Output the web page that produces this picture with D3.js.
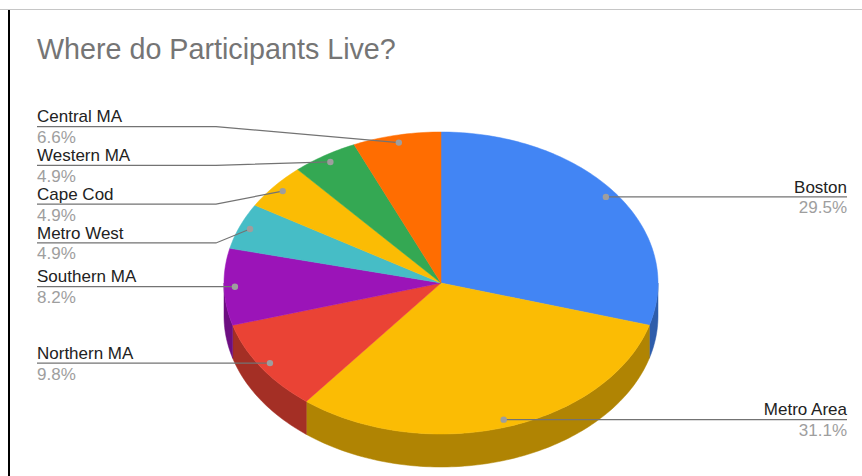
<!DOCTYPE html>
<html>
<head>
<meta charset="utf-8">
<script src="https://cdn.jsdelivr.net/npm/d3@7"></script>
<style>
  body { margin: 0; background: #fff; }
  svg { display: block; font-family: "Liberation Sans", Arial, sans-serif; }
</style>
</head>
<body>
<div id="chart"></div>
<script>
const FRAME_WIDTH = 862;
const FRAME_HEIGHT = 476;

// data (participants per region, shown as % of 61)
const REGIONS = ["Boston", "Metro Area", "Northern MA", "Southern MA", "Metro West", "Cape Cod", "Western MA", "Central MA"];
const COUNTS = [18, 19, 6, 5, 3, 3, 3, 4];
const COLORS = ["#4285f4", "#fbbc04", "#ea4335", "#9b14b8", "#46bdc6", "#fbbc04", "#34a853", "#ff6d01"];
const TITLE = "Where do Participants Live?";

// pie geometry
const CX = 441, CY = 283;
const RX = 217, RY = 151;
const DEPTH = 33;
const DOT_R = 0.95; //label dots sit just inside the rim
const LABEL_GAP = 38.8; //min vertical distance between stacked labels

const SVG = d3.select("#chart")
  .append("svg")
    .attr("width", FRAME_WIDTH)
    .attr("height", FRAME_HEIGHT);

//frame edges
SVG.append("line")
  .attr("x1", 0).attr("x2", FRAME_WIDTH)
  .attr("y1", 9.5).attr("y2", 9.5)
  .attr("stroke", "#c6c6c6").attr("stroke-width", 1);
SVG.append("line")
  .attr("x1", 9).attr("x2", 9)
  .attr("y1", 10).attr("y2", FRAME_HEIGHT)
  .attr("stroke", "#000").attr("stroke-width", 2);

SVG.append("text")
  .attr("x", 37).attr("y", 59)
  .attr("font-size", "28.7px")
  .attr("fill", "#757575")
  .text(TITLE);

const data = REGIONS.map((r, i) => ({region: r, count: COUNTS[i], color: COLORS[i]}));
const total = d3.sum(COUNTS);

const pie = d3.pie().value(d => d.count).sort(null);
const arcs = pie(data);

// angle measured clockwise from 12 o'clock, projected onto the tilted ellipse
function pt(a, k, dy) {
  return [CX + k * RX * Math.sin(a), CY - k * RY * Math.cos(a) + (dy || 0)];
}

function arcPoints(a0, a1, dy) {
  const n = Math.max(2, Math.ceil(Math.abs(a1 - a0) / 0.02));
  return d3.range(n + 1).map(i => pt(a0 + (a1 - a0) * i / n, 1, dy));
}

const line = d3.line();

//side walls: only the front half (PI/2 .. 3PI/2) is visible
const sides = SVG.append("g");
arcs.forEach(d => {
  const a0 = Math.max(d.startAngle, Math.PI / 2);
  const a1 = Math.min(d.endAngle, 3 * Math.PI / 2);
  if (a1 <= a0) return;
  const top = arcPoints(a0, a1, 0);
  const bottom = arcPoints(a1, a0, DEPTH);
  const shade = d3.color(d.data.color).darker(1);
  sides.append("path")
    .attr("d", line(top.concat(bottom)) + "Z")
    .attr("fill", shade)
    .attr("stroke", shade)
    .attr("stroke-width", 0.5);
});

//top faces
const tops = SVG.append("g");
arcs.forEach(d => {
  const pts = [[CX, CY]].concat(arcPoints(d.startAngle, d.endAngle, 0));
  tops.append("path")
    .attr("d", line(pts) + "Z")
    .attr("fill", d.data.color)
    .attr("stroke", d.data.color)
    .attr("stroke-width", 0.5);
});

//labels: anchor dots and stacked text on each side
const labels = arcs.map(d => {
  const mid = (d.startAngle + d.endAngle) / 2;
  const dot = pt(mid, DOT_R);
  return {d: d, dot: dot, left: Math.sin(mid) < 0, y: dot[1]};
});

function stack(list) {
  list.sort((a, b) => a.dot[1] - b.dot[1]);
  //merge overlapping labels into clusters centred on their mean wanted y
  let groups = list.map(l => ({items: [l], mean: l.dot[1]}));
  let merged = true;
  while (merged) {
    merged = false;
    for (let i = 0; i < groups.length - 1; i++) {
      const g = groups[i], h = groups[i + 1];
      const gBottom = g.mean + (g.items.length - 1) * LABEL_GAP / 2;
      const hTop = h.mean - (h.items.length - 1) * LABEL_GAP / 2;
      if (hTop - gBottom < LABEL_GAP) {
        const items = g.items.concat(h.items);
        groups.splice(i, 2, {items: items, mean: d3.mean(items, l => l.dot[1])});
        merged = true;
        break;
      }
    }
  }
  groups.forEach(g => {
    //stacked clusters sit a little lower than their plain mean
    const shift = g.items.length > 1 ? 3.6 : 0;
    g.items.forEach((l, i) => {
      l.y = g.mean + shift + (i - (g.items.length - 1) / 2) * LABEL_GAP;
    });
  });
}
stack(labels.filter(l => l.left));
stack(labels.filter(l => !l.left));

const fmt = d3.format(".1%");
const LEFT_X = 37, RIGHT_X = 847;
const LEFT_ELBOW = CX - RX - 8, RIGHT_ELBOW = CX + RX + 8;

const lab = SVG.append("g");
labels.forEach(l => {
  const x = l.left ? LEFT_X : RIGHT_X;
  const elbow = l.left ? LEFT_ELBOW : RIGHT_ELBOW;
  lab.append("path")
    .attr("d", line([[x, l.y], [elbow, l.y], l.dot]))
    .attr("fill", "none")
    .attr("stroke", "#737373")
    .attr("stroke-width", 1.2);
  lab.append("circle")
    .attr("cx", l.dot[0]).attr("cy", l.dot[1])
    .attr("r", 3.2)
    .attr("fill", "#9e9e9e");
  lab.append("text")
    .attr("x", x).attr("y", l.y - 4.3)
    .attr("text-anchor", l.left ? "start" : "end")
    .attr("font-size", "17px")
    .attr("fill", "#222")
    .text(l.d.data.region);
  lab.append("text")
    .attr("x", x).attr("y", l.y + 16.5)
    .attr("text-anchor", l.left ? "start" : "end")
    .attr("font-size", "17px")
    .attr("fill", "#9e9e9e")
    .text(fmt(l.d.data.count / total));
});
</script>
</body>
</html>
